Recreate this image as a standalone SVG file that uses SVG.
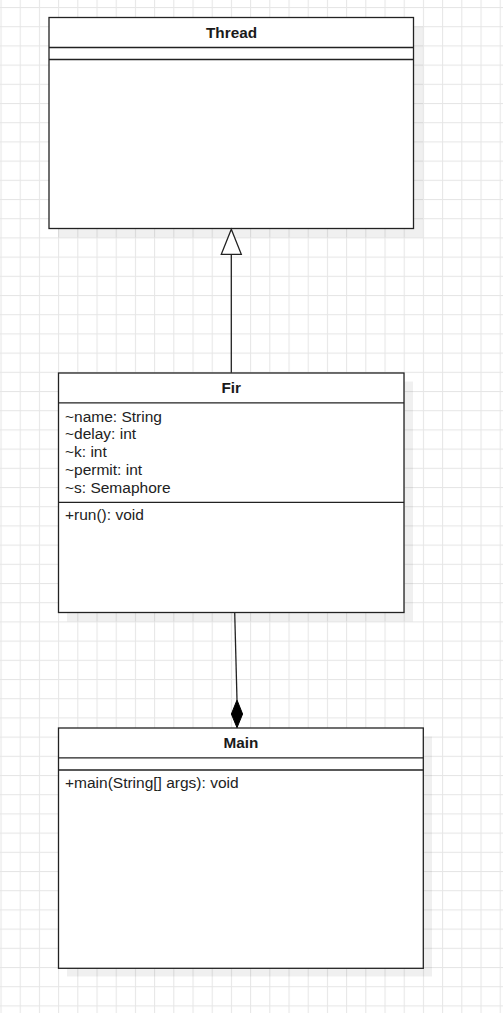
<svg xmlns="http://www.w3.org/2000/svg" width="503" height="1013" viewBox="0 0 503 1013">
<defs>
<pattern id="grid" patternUnits="userSpaceOnUse" x="0.5" y="7" width="19.2" height="19.2">
<rect x="0" y="0" width="19.2" height="19.2" fill="#ffffff"/>
<rect x="0" y="0" width="1" height="19.2" fill="#e6e6e6"/>
<rect x="0" y="0" width="19.2" height="1" fill="#e6e6e6"/>
</pattern>
</defs>
<style>
.box{fill:#ffffff;stroke:#222222;stroke-width:1.3}
.sep{stroke:#222222;stroke-width:1.3;fill:none}
.shadow{fill:#000000;fill-opacity:0.06}
.title{font-family:"Liberation Sans",Arial,sans-serif;font-size:15.3px;font-weight:bold;fill:#1a1a1a;text-anchor:middle}
.mem{font-family:"Liberation Sans",Arial,sans-serif;font-size:15.5px;fill:#222222}
.edge{stroke:#222222;stroke-width:1.3;fill:none}
</style>
<rect x="0" y="0" width="503" height="1013" fill="url(#grid)"/>

<g id="Thread">
<rect class="shadow" x="58" y="26.5" width="365" height="211"/>
<rect class="box" x="49" y="17.5" width="364.5" height="211"/>
<line class="sep" x1="49" y1="47.5" x2="413.5" y2="47.5"/>
<line class="sep" x1="49" y1="59.5" x2="413.5" y2="59.5"/>
<text class="title" x="231.5" y="38.3">Thread</text>
</g>

<g id="Fir">
<rect class="shadow" x="67" y="381.5" width="346" height="240"/>
<rect class="box" x="58.5" y="373" width="345.5" height="239.5"/>
<line class="sep" x1="58.5" y1="402.8" x2="404" y2="402.8"/>
<line class="sep" x1="58.5" y1="502.3" x2="404" y2="502.3"/>
<text class="title" x="231.3" y="392.5">Fir</text>
<text class="mem" x="65" y="421.5">~name: String</text>
<text class="mem" x="65" y="439.3">~delay: int</text>
<text class="mem" x="65" y="457.1">~k: int</text>
<text class="mem" x="65" y="474.9">~permit: int</text>
<text class="mem" x="65" y="492.7">~s: Semaphore</text>
<text class="mem" x="65" y="520">+run(): void</text>
</g>

<g id="Main">
<rect class="shadow" x="67" y="736.5" width="365" height="240"/>
<rect class="box" x="58.5" y="728" width="364.8" height="240.3"/>
<line class="sep" x1="58.5" y1="757.8" x2="423.3" y2="757.8"/>
<line class="sep" x1="58.5" y1="770" x2="423.3" y2="770"/>
<text class="title" x="241" y="747.7">Main</text>
<text class="mem" x="65" y="788.3">+main(String[] args): void</text>
</g>

<g id="connectors">
<line class="edge" x1="231.3" y1="372.7" x2="231.3" y2="254.3"/>
<polygon points="231.3,229.3 241.3,254.3 221.3,254.3" fill="#ffffff" stroke="#222222" stroke-width="1.3"/>
<line class="edge" x1="234.7" y1="612.5" x2="237" y2="700"/>
<polygon points="237,700 242.6,714 237,727.7 231.4,714" fill="#000000" stroke="#000000" stroke-width="1"/>
</g>
</svg>
